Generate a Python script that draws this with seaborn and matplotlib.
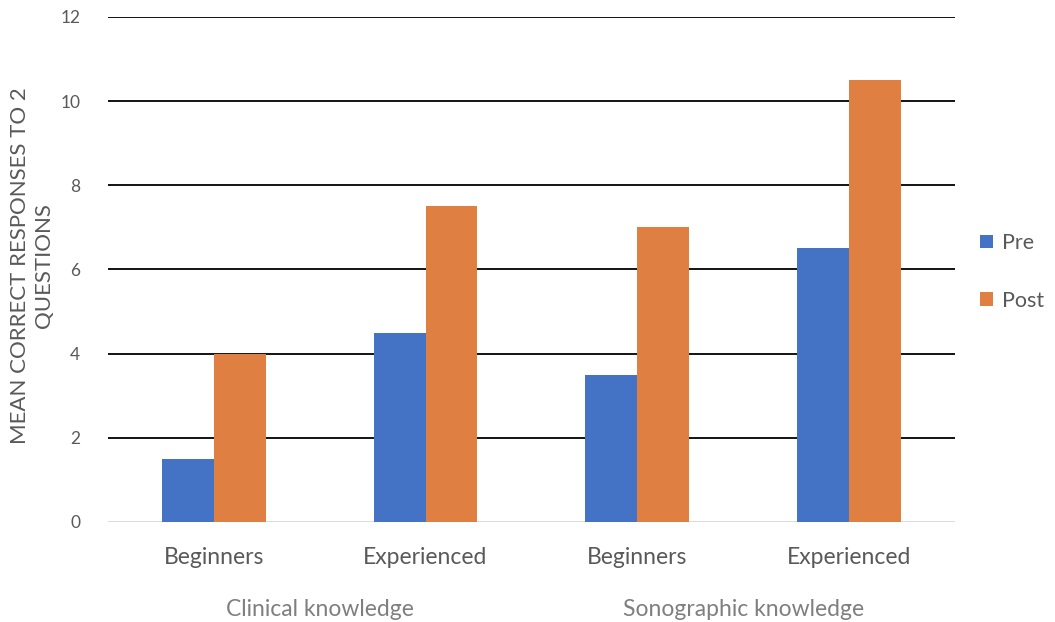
import matplotlib
matplotlib.use("Agg")
import matplotlib.pyplot as plt
import matplotlib.transforms as mtransforms
from matplotlib.patches import Patch
import seaborn as sns
import pandas as pd

groups = ["Clinical knowledge", "Clinical knowledge", "Sonographic knowledge", "Sonographic knowledge"]
levels = ["Beginners", "Experienced", "Beginners", "Experienced"]
pre_values = [1.5, 4.5, 3.5, 6.5]
post_values = [4.0, 7.5, 7.0, 10.5]
series = ["Pre", "Post"]
colors = ["#4472C4", "#E07F42"]
y_ticks = [0, 2, 4, 6, 8, 10, 12]

cats = [f"{g}|{l}" for g, l in zip(groups, levels)]
df = pd.DataFrame({
    "cat": cats * 2,
    "series": ["Pre"] * 4 + ["Post"] * 4,
    "value": pre_values + post_values,
})

sns.set_theme(style="white")
plt.rcParams["font.family"] = ["Lato", "DejaVu Sans"]

fig = plt.figure(figsize=(10.55, 6.22), dpi=100)
ax = fig.add_axes([0.1024, 0.1608, 0.8026, 0.8119])

sns.barplot(data=df, x="cat", y="value", hue="series", order=cats,
            hue_order=series, palette=colors, width=0.49, gap=0,
            saturation=1, ax=ax, legend=False, linewidth=0)

ax.set_ylim(0, 12)
ax.set_xlim(-0.5, 3.5)
ax.set_yticks(y_ticks)
ax.set_yticklabels([str(t) for t in y_ticks], fontsize=12.5, color="#595959")
ax.set_xticks(range(4))
ax.set_xticklabels(levels, fontsize=16.5, color="#595959")
ax.tick_params(axis="x", length=0, pad=18)
ax.tick_params(axis="y", length=0, pad=20)

for t in y_ticks[1:]:
    ax.axhline(t, color="black", linewidth=1.3, zorder=0)
ax.axhline(0, color="#D9D9D9", linewidth=1.3, zorder=0)

for s in ax.spines.values():
    s.set_visible(False)

ax.set_xlabel("")
ax.set_ylabel("")
fig.text(32 / 1055, 1 - 266 / 622, "MEAN CORRECT RESPONSES TO 2\nQUESTIONS",
         rotation=90, ha="center", va="center", fontsize=16,
         color="#595959", linespacing=1.2, multialignment="center")

trans = mtransforms.blended_transform_factory(ax.transData, ax.transAxes)
ax.text(0.5, -0.173, "Clinical knowledge", transform=trans, ha="center",
        va="center", fontsize=16.5, color="#7F7F7F")
ax.text(2.5, -0.173, "Sonographic knowledge", transform=trans, ha="center",
        va="center", fontsize=16.5, color="#7F7F7F")

handles = [Patch(facecolor=c, edgecolor="none") for c in colors]
fig.legend(handles, series, loc="center left", bbox_to_anchor=(0.929, 0.563),
           borderaxespad=0, borderpad=0, frameon=False, fontsize=15.5,
           handlelength=0.6, handleheight=0.6,
           handletextpad=0.4, labelspacing=1.75, labelcolor="#595959")

fig.savefig("out.png", dpi=100)
